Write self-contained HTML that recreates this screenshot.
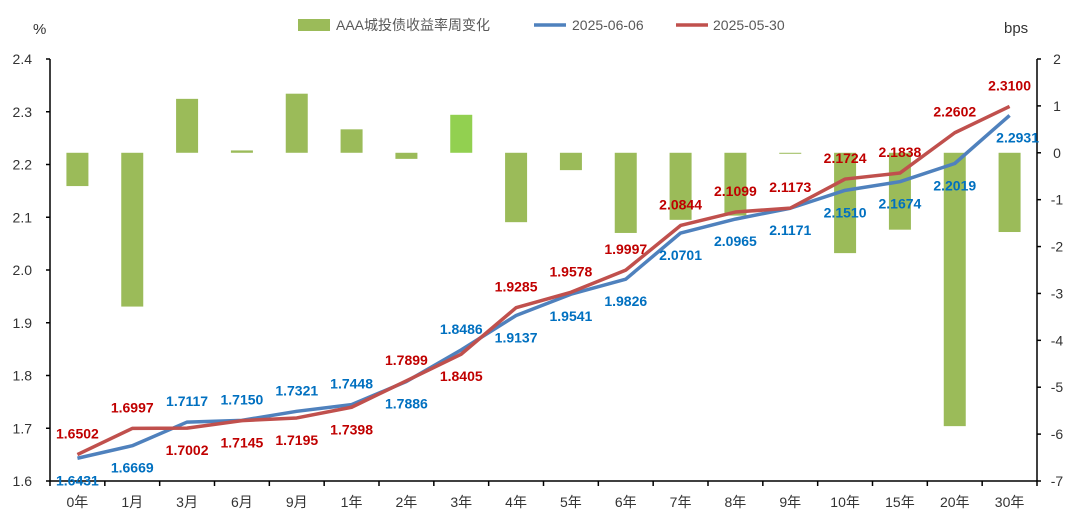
<!DOCTYPE html>
<html><head><meta charset="utf-8"><style>
body{margin:0;background:#fff;}
svg text{font-family:"Liberation Sans","Noto Sans CJK SC",sans-serif;}
</style></head><body>
<svg id="c" width="1080" height="524" xmlns="http://www.w3.org/2000/svg">
<g>
<rect x="298" y="19" width="32" height="12" fill="#9BBB59"/>
<text x="336" y="30" font-size="14" fill="#595959">AAA城投债收益率周变化</text>
<line x1="534" y1="25" x2="566" y2="25" stroke="#4F81BD" stroke-width="3.5"/>
<text x="572" y="30" font-size="14" fill="#595959">2025-06-06</text>
<line x1="676" y1="25" x2="708" y2="25" stroke="#C0504D" stroke-width="3.5"/>
<text x="713" y="30" font-size="14" fill="#595959">2025-05-30</text>
</g>
<text x="33" y="34" font-size="15" fill="#333">%</text>
<text x="1004" y="33" font-size="15" fill="#333">bps</text>
</svg>
<script>
const categories=["0年","1月","3月","6月","9月","1年","2年","3年","4年","5年","6年","7年","8年","9年","10年","15年","20年","30年"];
const blue=[1.6431,1.6669,1.7117,1.7150,1.7321,1.7448,1.7886,1.8486,1.9137,1.9541,1.9826,2.0701,2.0965,2.1171,2.1510,2.1674,2.2019,2.2931];
const red=[1.6502,1.6997,1.7002,1.7145,1.7195,1.7398,1.7899,1.8405,1.9285,1.9578,1.9997,2.0844,2.1099,2.1173,2.1724,2.1838,2.2602,2.3100];
const bars=[-0.71,-3.28,1.15,0.05,1.26,0.50,-0.13,0.81,-1.48,-0.37,-1.71,-1.43,-1.34,-0.02,-2.14,-1.64,-5.83,-1.69];
const blueSide=["b","b","a","a","a","a","b","a","b","b","b","b","b","b","b","b","b","b"];
const redSide=["a","a","b","b","b","b","a","b","a","a","a","a","a","a","a","a","a","a"];
const leftTicks=["1.6","1.7","1.8","1.9","2.0","2.1","2.2","2.3","2.4"];
const rightTicks=["-7","-6","-5","-4","-3","-2","-1","0","1","2"];
const NS="http://www.w3.org/2000/svg",svg=document.getElementById('c');
const L=50,R=1037,T=59,B=481,n=categories.length,bw=(R-L)/n;
const x=i=>L+bw*(i+0.5);
const yL=v=>B-(v-1.6)/0.8*(B-T);
const yR=v=>B-(v+7)/9*(B-T);
function mk(t,a,p){const e=document.createElementNS(NS,t);for(const k in a)e.setAttribute(k,a[k]);(p||svg).appendChild(e);return e;}
const g=mk('g',{});


bars.forEach((v,i)=>{const y0=yR(0),y1=yR(v);
const r=mk('rect',{x:x(i)-11,y:Math.min(y0,y1),width:22,height:Math.max(1,Math.abs(y1-y0)),fill:i===7?'#92D050':'#9BBB59'},g);

});
// axes
const ax=mk('g',{stroke:'#000','stroke-width':1.5,fill:'none'});


mk('line',{x1:L,y1:T,x2:L,y2:B},ax);mk('line',{x1:R,y1:T,x2:R,y2:B},ax);mk('line',{x1:L,y1:B,x2:R,y2:B},ax);
leftTicks.forEach(t=>{const y=yL(+t);mk('line',{x1:L-4,y1:y,x2:L,y2:y},ax);
const e=mk('text',{x:32,y:y+5,'font-size':14,fill:'#333','text-anchor':'end'});e.textContent=t;

});
rightTicks.forEach(t=>{const y=yR(+t);mk('line',{x1:R,y1:y,x2:R+4,y2:y},ax);
const e=mk('text',{x:1057,y:y+5,'font-size':14,fill:'#333','text-anchor':'middle'});e.textContent=t;

});
for(let i=0;i<=n;i++)mk('line',{x1:L+bw*i,y1:B,x2:L+bw*i,y2:B+5},ax);
categories.forEach((c,i)=>{const e=mk('text',{x:x(i),y:507,'font-size':14,fill:'#333','text-anchor':'middle'});e.textContent=c;

});
function line(d,col,name){const p=mk('polyline',{points:d.map((v,i)=>x(i)+','+yL(v)).join(' '),fill:'none',stroke:col,'stroke-width':3.5,'stroke-linejoin':'round'});

}
line(blue,'#4F81BD','line-2025-06-06');
line(red,'#C0504D','line-2025-05-30');
function labels(d,side,col,name){d.forEach((v,i)=>{let dy=side[i]==='a'?-16:27,dx=0;
if(i===n-1&&d===blue){dx=8;dy=27;}
const e=mk('text',{x:x(i)+dx,y:yL(v)+dy,'font-size':14,'font-weight':'bold',fill:col,'text-anchor':'middle'});e.textContent=v.toFixed(4);

});}
labels(blue,blueSide,'#0070C0','blue-value-label');
labels(red,redSide,'#C00000','red-value-label');
</script>
</body></html>
